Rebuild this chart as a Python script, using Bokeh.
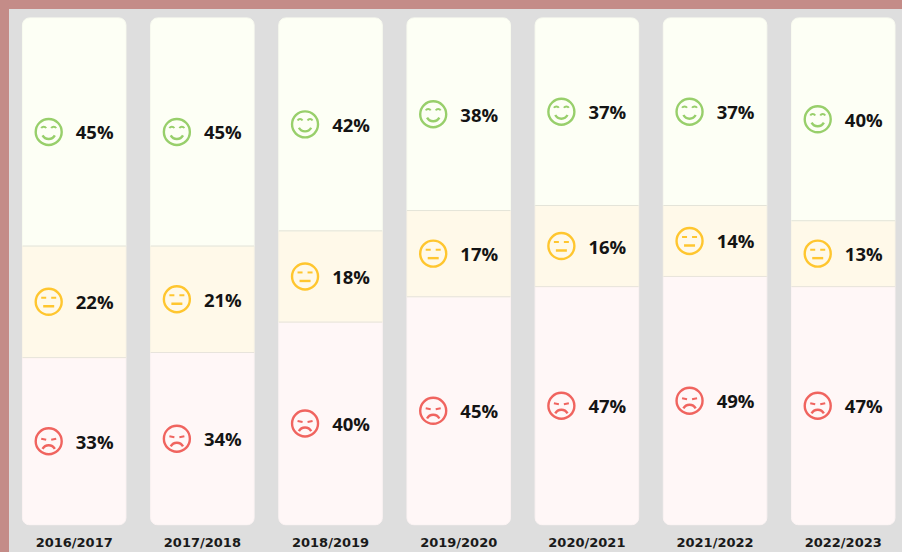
from bokeh.plotting import figure
from bokeh.embed import file_html
from bokeh.resources import INLINE
from bokeh.core.properties import value
from bokeh.models import FixedTicker
import numpy as np

seasons = ["2016/2017", "2017/2018", "2018/2019", "2019/2020", "2020/2021", "2021/2022", "2022/2023"]
positive = [45, 45, 42, 38, 37, 37, 40]
neutral = [22, 21, 18, 17, 16, 14, 13]
negative = [33, 34, 40, 45, 47, 49, 47]

BG = "#dedede"
PAGE = "#c48c88"
PX_X = 128.17
PX_Y = 5.07
W, H = 893, 543
FONT = "Open Sans"
FS = "18.5px"

x_range = (-64.7 / PX_X, (W - 64.7) / PX_X)
y_range = (-0.12, 99.88 + 9 / PX_Y)

p = figure(width=W, height=H, x_range=x_range, y_range=y_range, output_backend="svg",
           toolbar_location=None, min_border_left=0, min_border_right=0, min_border_top=0,
           min_border_bottom=27, background_fill_color=BG, border_fill_color=BG,
           outline_line_color=None,
           styles={"margin-left": "9px", "margin-top": "9px", "background": BG})
p.grid.visible = False
p.yaxis.visible = False
ax = p.xaxis[0]
ax.ticker = FixedTicker(ticks=list(range(len(seasons))))
ax.major_label_overrides = {i: s for i, s in enumerate(seasons)}
ax.axis_line_color = None
ax.major_tick_line_color = None
ax.minor_tick_line_color = None
ax.major_tick_out = 0
ax.major_tick_in = 0
ax.minor_tick_out = 0
ax.minor_tick_in = 0
ax.major_label_standoff = 9
ax.major_label_text_font = "DejaVu Sans"
ax.major_label_text_font_style = "bold"
ax.major_label_text_font_size = "13px"
ax.major_label_text_color = "#1a1a1a"

xs = np.arange(len(seasons), dtype=float)
neg = np.array(negative, dtype=float)
neu = np.array(neutral, dtype=float)
pos = np.array(positive, dtype=float)
bw = 103.5 / PX_X

p.vbar(x=xs, bottom=0, top=neg, width=bw, fill_color="#fff7f7", line_color="#fbf3f3", line_width=1,
       border_radius=(0, 0, 7, 7))
p.vbar(x=xs, bottom=neg, top=neg + neu, width=bw, fill_color="#fff9e9", line_color="#faf5e6", line_width=1)
p.vbar(x=xs, bottom=neg + neu, top=neg + neu + pos, width=bw, fill_color="#fdfff5", line_color="#f9fbf0", line_width=1,
       border_radius=(7, 7, 0, 0))
p.segment(xs - bw / 2, neg, xs + bw / 2, neg, line_color="#e8e4dc", line_width=1)
p.segment(xs - bw / 2, neg + neu, xs + bw / 2, neg + neu, line_color="#e4e4d8", line_width=1)

FACE_DX = -25.5 / PX_X
TEXT_DX = 20.5 / PX_X


def face(ymid, color, kind):
    cx = xs + FACE_DX
    lw = 2.4
    p.circle(cx, ymid, radius=13, radius_units="screen", fill_color=None, line_color=color, line_width=lw)
    dx = lambda d: d / PX_X
    dy = lambda d: -d / PX_Y   # screen pixels downward
    if kind == "happy":
        for s in (-1, 1):
            p.arc(cx + dx(s * 5), ymid + dy(-2.5), radius=2.8, radius_units="screen", start_angle=0.5,
                  end_angle=np.pi - 0.5, line_color=color, line_width=2)
        p.arc(cx, ymid + dy(0), radius=7, radius_units="screen", start_angle=np.pi + 0.5,
              end_angle=2 * np.pi - 0.5, line_color=color, line_width=lw)
    elif kind == "flat":
        for s in (-1, 1):
            p.segment(cx + dx(s * 5 - 2.5), ymid + dy(-4), cx + dx(s * 5 + 2.5), ymid + dy(-4),
                      line_color=color, line_width=2)
        p.segment(cx - dx(5.5), ymid + dy(4.5), cx + dx(5.5), ymid + dy(4.5), line_color=color, line_width=lw)
    else:
        for s in (-1, 1):
            p.segment(cx + dx(s * 7.5), ymid + dy(-2.5), cx + dx(s * 2.5), ymid + dy(-1.5),
                      line_color=color, line_width=2)
        p.arc(cx, ymid + dy(11), radius=7, radius_units="screen", start_angle=0.5,
              end_angle=np.pi - 0.5, line_color=color, line_width=lw)


def labels(ymid, vals):
    p.text(xs + TEXT_DX, ymid, text=[f"{int(v)}%" for v in vals], text_align="center", text_baseline="middle",
           text_font=value(FONT), text_font_style="bold", text_font_size=value(FS), text_color="#141414")


mid_neg = neg / 2
mid_neu = neg + neu / 2
mid_pos = neg + neu + pos / 2
face(mid_pos, "#98cf6b", "happy")
face(mid_neu, "#ffc62f", "flat")
face(mid_neg, "#f0645f", "sad")
labels(mid_pos, pos)
labels(mid_neu, neu)
labels(mid_neg, neg)

html = file_html(p, INLINE)
html = html.replace("</head>", f"<style>html,body{{background:{PAGE};overflow:hidden}}</style></head>", 1)
open("out.html", "w").write(html)
